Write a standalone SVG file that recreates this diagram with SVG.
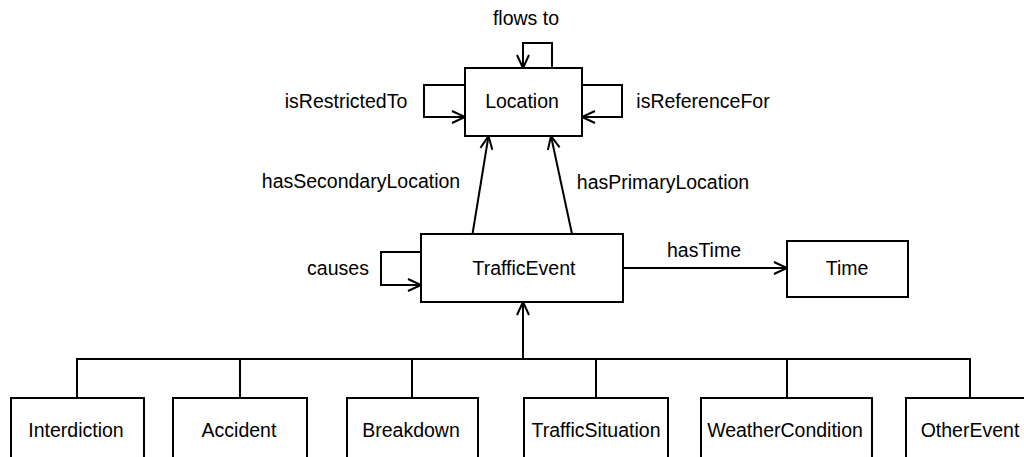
<svg xmlns="http://www.w3.org/2000/svg" width="1024" height="457" viewBox="0 0 1024 457">
  <defs>
    <style>
      .box { fill: #fff; stroke: #000; stroke-width: 2; }
      .edge { fill: none; stroke: #000; stroke-width: 2; }
      .arr { marker-end: url(#open); }
      text { font-family: "Liberation Sans", Arial, sans-serif; font-size: 19.5px; fill: #000; text-anchor: middle; }
    </style>
    <marker id="open" markerUnits="userSpaceOnUse" viewBox="-15 -8 17 16" refX="0" refY="0" markerWidth="17" markerHeight="16" orient="auto" overflow="visible">
      <path d="M-13,-6 L0,0 L-13,6" fill="none" stroke="#000" stroke-width="2" stroke-linejoin="miter"/>
    </marker>
  </defs>
  <rect width="1024" height="457" fill="#fff"/>

  <!-- connectors -->
  <g id="connectors">
    <path class="edge arr" d="M552,68 V43 H523 V68"/>
    <path class="edge arr" d="M465,85 H424 V117 H465"/>
    <path class="edge arr" d="M582,85 H622 V117 H582"/>
    <path class="edge arr" d="M472.5,234 L488.5,136"/>
    <path class="edge arr" d="M572,234 L551,136"/>
    <path class="edge arr" d="M421,252 H381 V285 H421"/>
    <path class="edge arr" d="M623,268 H787"/>
    <path class="edge arr" d="M523,359 V302"/>
    <path class="edge" d="M77,398 V359 H970 V398"/>
    <path class="edge" d="M240,359 V398 M412,359 V398 M596,359 V398 M787,359 V398"/>
    <text x="526" y="25">flows to</text>
    <text x="346" y="108">isRestrictedTo</text>
    <text x="703" y="108">isReferenceFor</text>
    <text x="361" y="188">hasSecondaryLocation</text>
    <text x="663" y="189">hasPrimaryLocation</text>
    <text x="338" y="275">causes</text>
    <text x="704" y="257">hasTime</text>
  </g>

  <g id="location">
    <rect class="box" x="465" y="68" width="117" height="68"/>
    <text x="522" y="108">Location</text>
  </g>
  <g id="trafficEvent">
    <rect class="box" x="421" y="234" width="202" height="68"/>
    <text x="524" y="275">TrafficEvent</text>
  </g>
  <g id="time">
    <rect class="box" x="787" y="241" width="121" height="56"/>
    <text x="847" y="275">Time</text>
  </g>
  <g id="interdiction">
    <rect class="box" x="11" y="398" width="133" height="80"/>
    <text x="76" y="437">Interdiction</text>
  </g>
  <g id="accident">
    <rect class="box" x="173" y="398" width="134" height="80"/>
    <text x="239" y="437">Accident</text>
  </g>
  <g id="breakdown">
    <rect class="box" x="347" y="398" width="131" height="80"/>
    <text x="411" y="437">Breakdown</text>
  </g>
  <g id="trafficSituation">
    <rect class="box" x="524" y="398" width="144" height="80"/>
    <text x="596" y="437">TrafficSituation</text>
  </g>
  <g id="weatherCondition">
    <rect class="box" x="701" y="398" width="171" height="80"/>
    <text x="785" y="437">WeatherCondition</text>
  </g>
  <g id="otherEvent">
    <rect class="box" x="906" y="398" width="128" height="80"/>
    <text x="970" y="437">OtherEvent</text>
  </g>
</svg>
